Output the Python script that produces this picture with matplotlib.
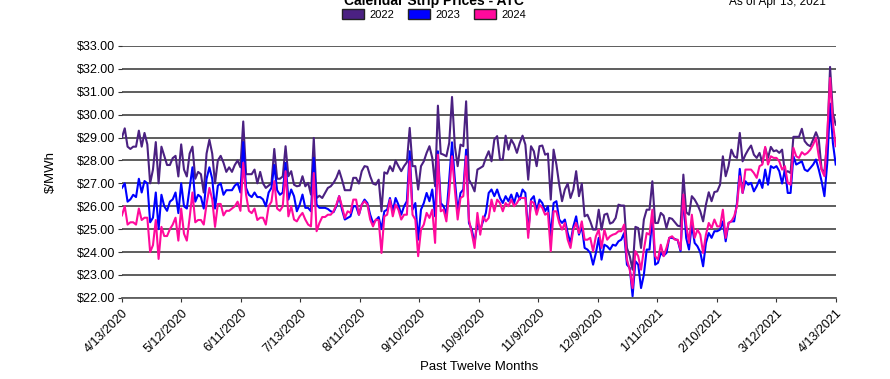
import numpy as np
import matplotlib
matplotlib.use("Agg")
import matplotlib.pyplot as plt
from matplotlib.patches import Patch
from matplotlib.ticker import StrMethodFormatter

plt.rcParams['font.family'] = ['Liberation Sans', 'DejaVu Sans']

# precios diarios (una entrada por dia habil, 4/13/2020 -> 4/13/2021)
p2022 = [
    29.0, 29.4, 28.6, 28.5, 28.6, 28.6, 29.3, 28.6, 29.2, 28.7, 27.0, 27.6, 28.8, 27.0, 28.6, 28.2, 27.8, 27.8, 28.1, 28.2,
    27.3, 28.7, 27.6, 27.3, 28.3, 28.6, 27.2, 27.5, 27.4, 26.6, 28.3, 28.9, 28.3, 27.0, 28.0, 28.2, 27.9, 27.5, 27.7, 27.5,
    27.8, 28.0, 27.7, 29.7, 27.4, 27.4, 27.4, 27.6, 27.0, 27.5, 27.0, 26.8, 26.9, 27.0, 28.5, 27.2, 27.2, 27.3,
    28.62, 27.31, 27.53, 26.94, 26.87, 26.90, 27.31, 26.87, 27.02, 26.51,
    28.98, 26.36, 26.46, 26.36, 26.58, 26.80, 26.87, 27.02, 27.24, 27.56,
    27.16, 26.70, 26.70, 26.70, 27.24, 27.24, 26.99, 27.53, 27.75, 27.72,
    27.31, 26.99, 26.94, 27.16, 25.78, 27.48, 27.42, 27.75, 27.53,
    27.99, 27.75, 27.53, 27.75, 27.92, 29.42, 27.75, 27.75, 26.73, 27.75,
    27.96, 28.33, 28.62, 28.11, 26.87, 30.39, 28.30, 28.25, 28.18,
    28.76, 30.77, 28.62, 27.75, 28.69, 28.62, 30.58, 27.16, 26.94, 26.65,
    27.60, 27.67, 27.75, 28.11, 28.40, 27.96, 28.91, 29.06, 28.04,
    28.04, 29.08, 28.47, 28.91, 28.69, 28.33, 28.76, 29.08, 28.69, 27.16,
    28.62, 28.40, 27.75, 28.62, 28.65, 28.25, 28.30, 26.29, 28.47, 27.82,
    26.94, 26.22, 26.73, 26.99, 26.36, 26.73, 27.53, 26.44,
    26.99, 25.56, 25.63, 25.34, 24.98, 24.98, 25.85, 24.98, 25.63, 25.68,
    25.24, 25.30, 25.49, 26.07, 26.03, 26.03, 24.18, 23.82, 23.23, 25.10,
    25.05, 24.18, 25.42, 25.85, 25.85, 27.09, 25.27, 25.27, 25.71, 25.59,
    25.05, 25.49, 25.45, 25.30, 25.15, 25.12, 27.38, 25.74, 25.63, 26.44,
    26.29, 26.07, 25.78, 25.34, 26.07, 26.61, 26.22, 26.62, 26.65, 26.94,
    28.18, 27.31, 27.75, 28.47, 28.18, 28.11, 29.20, 27.96, 28.25, 28.47,
    28.65, 28.25, 28.11, 28.33, 27.89, 28.55, 28.11, 28.59, 28.40, 28.44,
    28.33, 28.47, 27.45, 27.53, 27.45, 29.03, 29.03, 29.03, 29.38, 28.84,
    28.69, 28.62, 28.91, 29.23, 28.91, 27.60, 27.50, 28.84, 32.08, 30.07,
    29.56,
]

p2023 = [
    26.8, 27.0, 26.2, 26.3, 26.5, 26.4, 27.2, 26.6, 27.1, 27.0, 25.3, 25.5, 26.6, 25.0, 26.5, 26.0, 25.8, 26.2, 26.3, 26.6,
    25.7, 27.0, 26.0, 25.9, 26.8, 27.7, 26.2, 26.5, 26.4, 25.9, 27.2, 27.7, 27.2, 25.9, 26.9, 27.0, 26.5, 26.7, 26.7, 26.7,
    26.9, 27.0, 26.6, 28.8, 26.8, 26.5, 26.4, 26.6, 26.4, 26.4, 26.3, 26.0, 26.6, 26.8, 27.8, 26.7, 26.5, 26.6,
    27.89, 26.29, 26.73, 26.44, 25.78, 26.07, 26.51, 25.93, 25.93, 25.78,
    28.11, 26.07, 25.93, 25.93, 25.93, 25.88, 25.78, 25.74, 26.00, 26.44,
    25.85, 25.42, 25.49, 25.56, 26.00, 26.00, 25.63, 26.07, 26.29, 26.14,
    25.63, 25.27, 25.39, 25.53, 25.00, 25.78, 25.85, 26.36, 25.78,
    26.36, 26.07, 25.63, 26.00, 26.22, 28.40, 25.85, 26.14, 24.54, 25.85,
    26.14, 26.58, 26.22, 26.73, 25.56, 28.40, 26.14, 26.00, 25.63,
    27.16, 28.79, 27.16, 25.78, 26.58, 26.73, 28.47, 25.27, 24.98, 24.40,
    25.27, 24.98, 25.34, 25.71, 26.58, 26.73, 26.44, 26.73, 26.36,
    26.14, 26.44, 26.22, 26.51, 26.14, 26.58, 26.29, 26.73, 26.58, 24.83,
    26.29, 26.44, 25.78, 26.29, 26.14, 25.78, 26.00, 24.69, 26.14, 26.22,
    25.42, 25.27, 25.42, 24.83, 24.40, 25.12, 25.56, 24.76,
    25.12, 24.18, 24.11, 23.96, 23.45, 23.96, 24.62, 23.67, 24.32, 24.25,
    24.11, 24.32, 24.28, 24.47, 24.54, 24.83, 23.45, 23.31, 22.07, 23.60,
    23.45, 22.43, 23.01, 24.11, 24.11, 25.56, 23.45, 23.53, 23.96, 23.84,
    23.96, 24.62, 24.62, 24.57, 24.51, 24.04, 26.44, 24.62, 24.11, 25.20,
    24.40, 24.25, 23.99, 23.38, 24.40, 24.83, 24.62, 24.91, 24.91, 24.98,
    25.34, 24.47, 25.27, 25.34, 25.34, 26.14, 27.63, 26.58, 27.09, 26.94,
    27.02, 26.65, 26.87, 27.16, 26.80, 27.60, 26.94, 27.75, 27.67, 27.75,
    27.53, 26.99, 27.60, 26.58, 26.58, 28.18, 27.82, 27.89, 27.96, 27.60,
    27.53, 27.67, 27.82, 28.04, 27.60, 27.09, 26.44, 27.89, 30.48, 28.76,
    27.82,
]

p2024 = [
    25.6, 26.0, 25.2, 25.3, 25.3, 25.2, 25.9, 25.4, 25.5, 25.5, 24.0, 24.3, 25.4, 23.7, 25.1, 24.7, 24.7, 25.0, 25.2, 25.5,
    24.5, 25.9, 24.8, 24.5, 25.5, 26.6, 25.3, 25.4, 25.4, 25.2, 26.1, 26.8, 26.3, 25.1, 26.1, 26.1, 25.6, 25.8, 25.8, 25.9,
    26.0, 26.2, 25.8, 27.9, 26.5, 25.8, 25.7, 25.9, 25.4, 25.5, 25.5, 25.2, 26.0, 26.2, 27.1, 25.9, 25.8, 26.0,
    27.53, 25.56, 26.00, 25.42, 25.34, 25.56, 25.71, 25.42, 25.20, 25.12,
    27.45, 24.91, 25.27, 25.53, 25.53, 25.63, 25.63, 25.78, 26.07, 26.44,
    26.00, 25.49, 25.78, 25.71, 26.29, 26.29, 25.63, 26.07, 26.22, 26.07,
    25.42, 25.12, 25.42, 25.39, 23.96, 25.56, 25.63, 26.29, 25.56,
    26.07, 25.85, 25.42, 25.63, 25.63, 27.96, 25.63, 25.42, 23.82, 24.98,
    25.20, 25.71, 25.49, 25.85, 24.40, 28.25, 25.78, 25.85, 25.34,
    26.58, 28.18, 26.73, 25.42, 26.36, 26.44, 28.18, 25.42, 24.83, 24.18,
    25.71, 24.76, 25.56, 25.34, 25.49, 26.29, 25.78, 26.29, 26.14,
    25.78, 26.14, 26.00, 26.29, 26.00, 26.14, 26.36, 26.36, 26.36, 24.62,
    26.22, 26.14, 25.63, 26.07, 25.93, 25.63, 25.71, 24.04, 25.78, 25.78,
    25.27, 24.98, 25.27, 24.54, 24.18, 24.98, 25.27, 24.83,
    25.34, 24.54, 24.54, 24.62, 24.04, 24.69, 24.98, 24.18, 24.98, 24.54,
    24.69, 24.76, 24.80, 24.91, 24.91, 25.20, 23.67, 23.23, 22.43, 24.04,
    23.82, 23.23, 24.11, 24.83, 24.76, 25.85, 23.82, 23.67, 24.32, 23.82,
    24.18, 24.62, 24.69, 24.54, 24.54, 24.11, 26.51, 25.20, 24.40, 25.63,
    24.62, 24.98, 24.76, 23.96, 24.76, 25.27, 25.05, 25.42, 25.12, 25.12,
    25.85, 24.62, 25.27, 25.34, 25.56, 26.00, 27.31, 26.58, 27.60, 27.60,
    27.60, 27.45, 27.24, 27.75, 27.82, 28.59, 27.82, 28.18, 28.11, 28.11,
    27.96, 27.60, 27.75, 27.02, 26.94, 28.55, 28.18, 28.11, 28.36, 28.25,
    28.33, 28.47, 28.69, 28.98, 28.18, 27.60, 27.31, 29.06, 31.60, 29.64,
    28.62,
]

etiquetas_x = ["4/13/2020", "5/12/2020", "6/11/2020", "7/13/2020", "8/11/2020", "9/10/2020",
               "10/9/2020", "11/9/2020", "12/9/2020", "1/11/2021", "2/10/2021", "3/12/2021", "4/13/2021"]
series = ["2022", "2023", "2024"]
colores = ["#4B2182", "#0000FF", "#FF0A9C"]

fig = plt.figure(figsize=(8.9, 3.79), dpi=100)
ax = fig.add_axes([0.137, 0.214, 0.802, 0.665])

n = len(p2022)
x = np.arange(n)
for datos, color in zip([p2022, p2023, p2024], colores):
    ax.plot(x, datos, color=color, linewidth=1.5)

ax.set_ylim(22, 33)
ax.set_yticks(np.arange(22, 34, 1))
ax.yaxis.set_major_formatter(StrMethodFormatter("${x:.2f}"))
ax.set_xlim(0, n - 1)
ax.set_xticks(np.linspace(0, n - 1, len(etiquetas_x)))
ax.set_xticklabels(etiquetas_x, rotation=45, ha="right", rotation_mode="anchor")

ax.grid(axis="y", color="#505050", linewidth=1.3)
ax.set_axisbelow(True)
for lado in ["top", "right", "left"]:
    ax.spines[lado].set_visible(False)
ax.spines["bottom"].set_color("#606060")
ax.spines["bottom"].set_linewidth(1.3)
ax.tick_params(axis="both", labelsize=9, colors="#333333", length=3, labelcolor="black")
ax.tick_params(axis="y", pad=2)

ax.set_xlabel("Past Twelve Months", fontsize=9.5, labelpad=4)
ax.set_ylabel("$/MWh", fontsize=9.5, labelpad=14)

fig.text(0.488, 0.988, "Calendar Strip Prices - ATC", ha="center", va="baseline",
         fontsize=10, fontweight="bold")
fig.text(0.873, 0.988, "As of Apr 13, 2021", ha="center", va="baseline", fontsize=8.5)

handles = [Patch(facecolor=c, edgecolor="#222222", label=s) for s, c in zip(series, colores)]
fig.legend(handles=handles, loc="center", bbox_to_anchor=(0.488, 0.962), ncol=3, frameon=False,
           fontsize=8, handlelength=2.0, handleheight=1.0, columnspacing=1.2, handletextpad=0.5)

fig.savefig("out.png", dpi=100)
